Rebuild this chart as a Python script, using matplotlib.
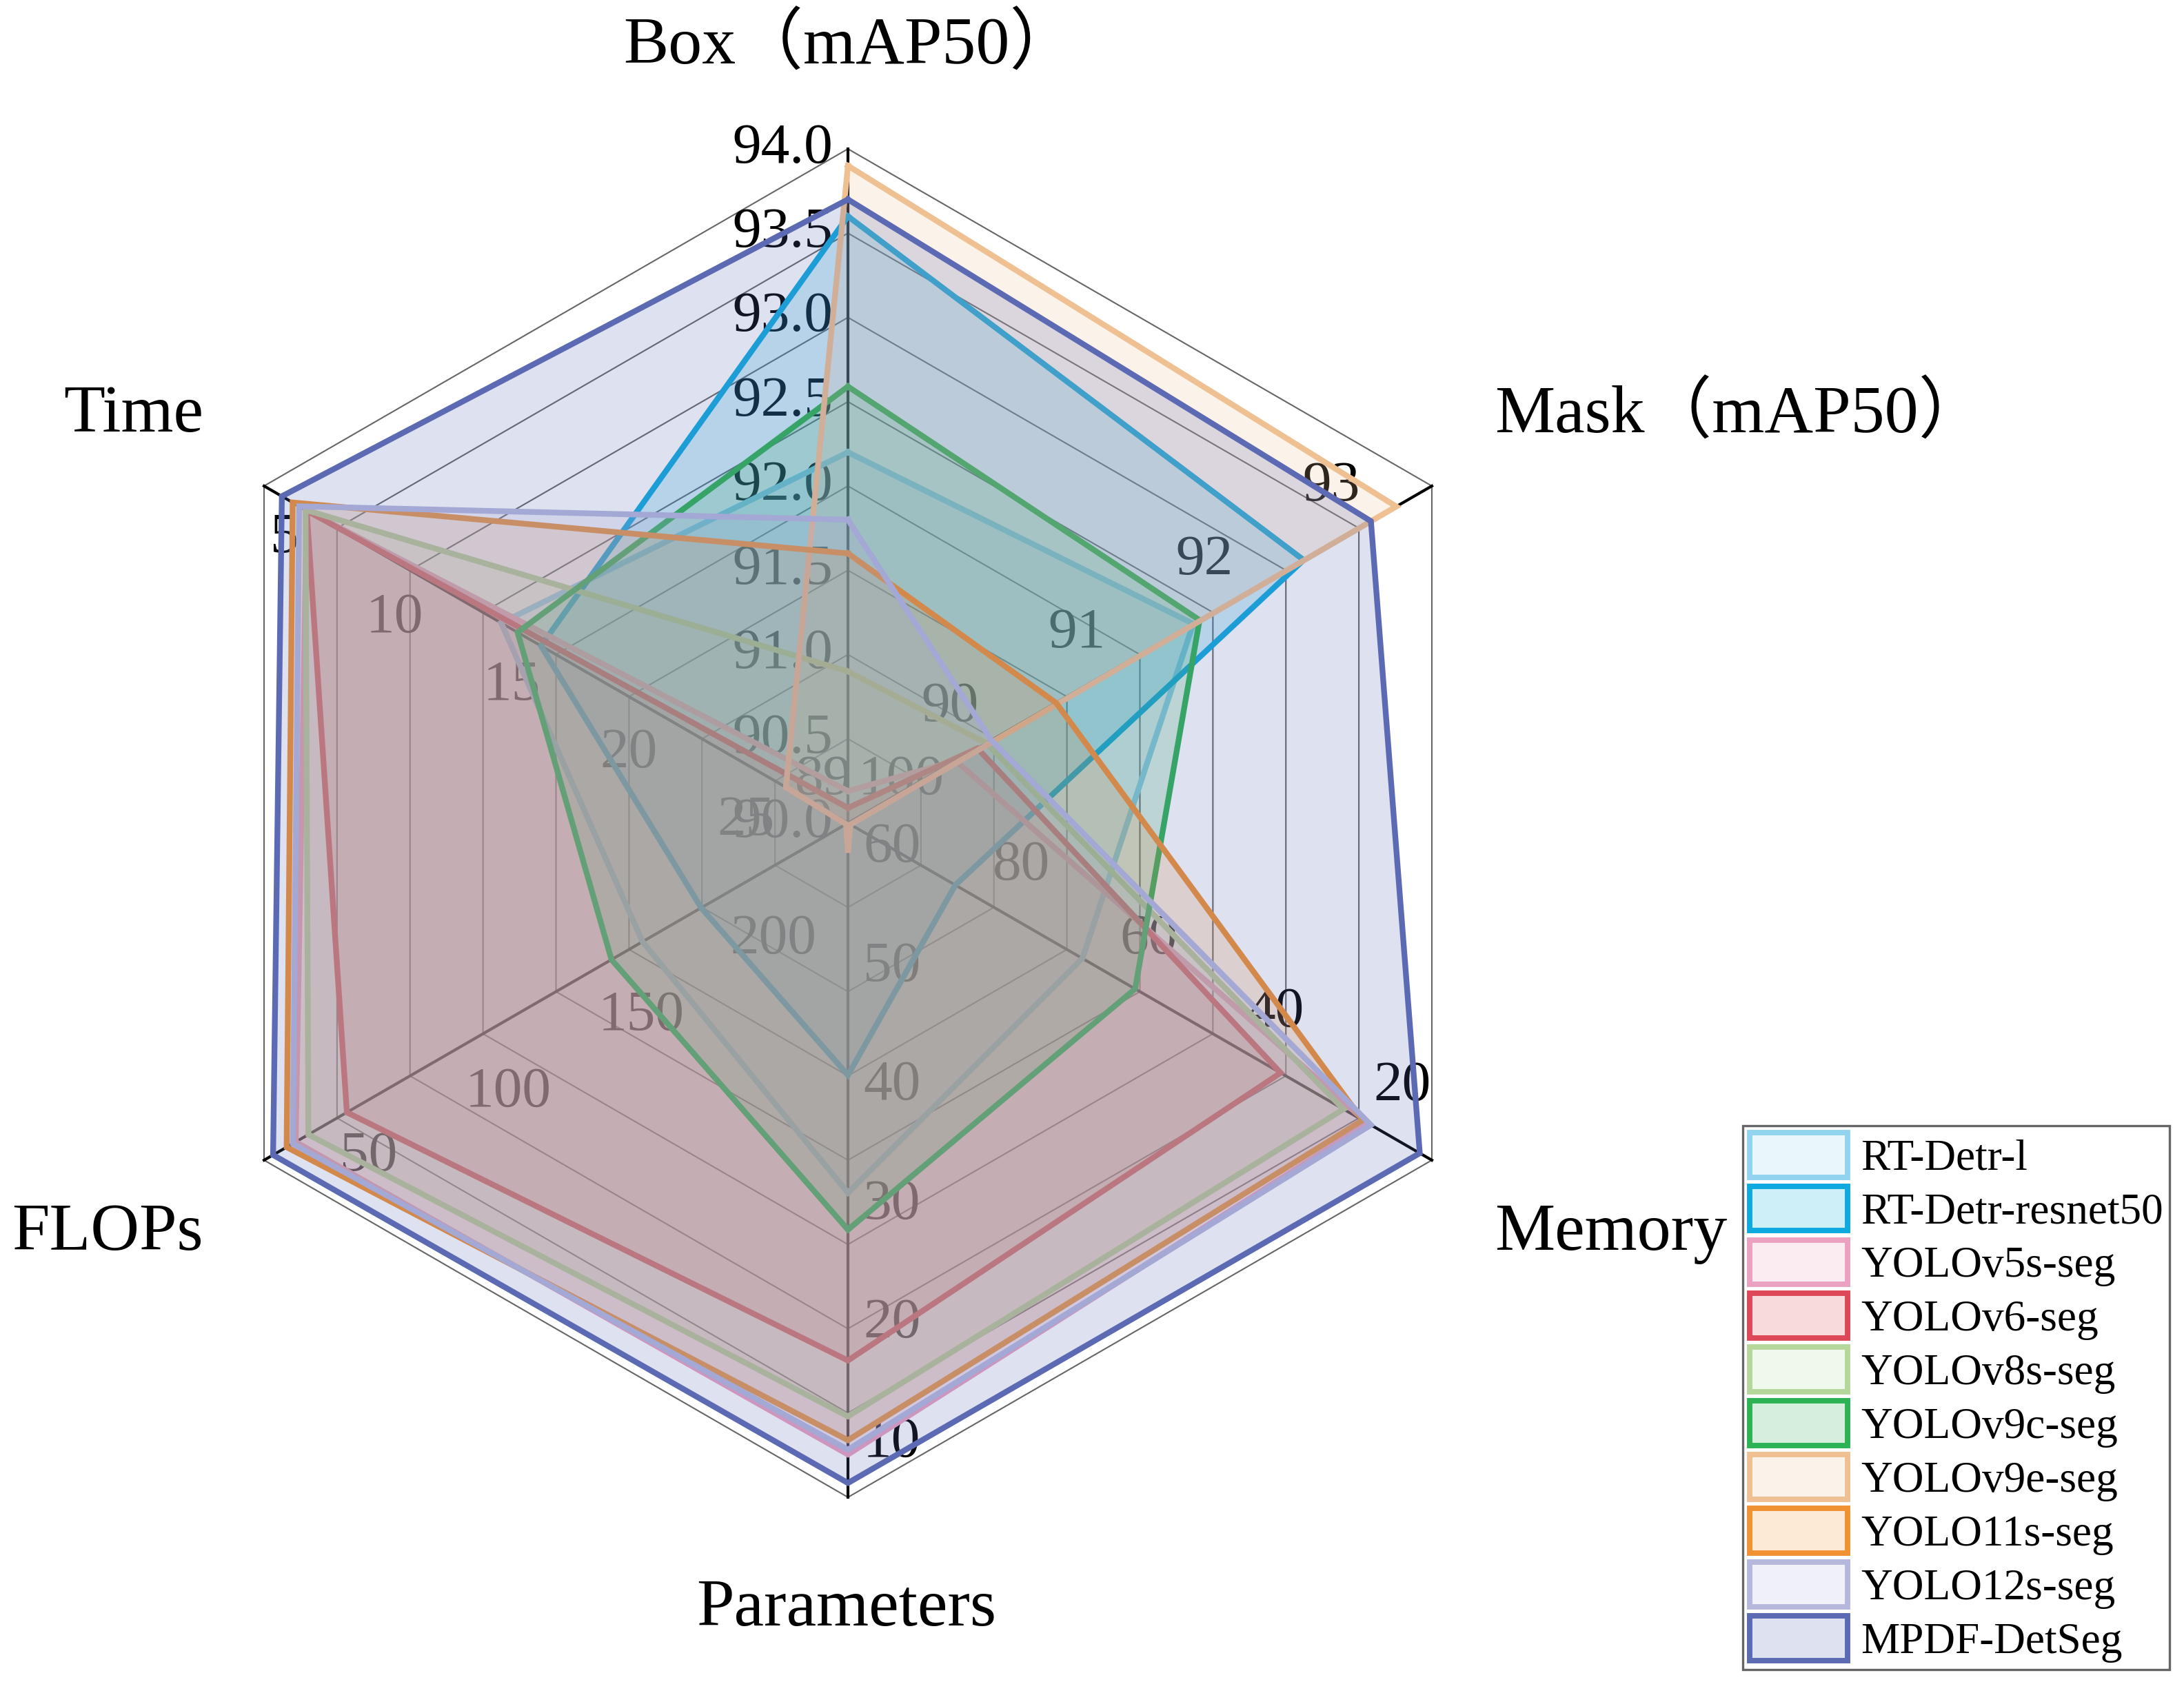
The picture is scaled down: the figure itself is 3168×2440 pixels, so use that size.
import numpy as np
import matplotlib
matplotlib.use("Agg")
import matplotlib.pyplot as plt
from matplotlib.patches import Patch
from matplotlib.colors import to_rgba


models = ["RT-Detr-l", "RT-Detr-resnet50", "YOLOv5s-seg", "YOLOv6-seg", "YOLOv8s-seg",
          "YOLOv9c-seg", "YOLOv9e-seg", "YOLO11s-seg", "YOLO12s-seg", "MPDF-DetSeg"]
colors = ["#92d3ef", "#0eaadf", "#eba2c1", "#dd4758", "#b5d79c",
          "#2db354", "#eec092", "#f09132", "#b5b8dc", "#5c6ab4"]

axis_names = ["Box（mAP50）", "Mask（mAP50）", "Memory", "Parameters", "FLOPs", "Time"]

box = [92.20, 93.60, 90.19, 90.09, 90.90, 92.59, 93.90, 91.60, 91.80, 93.70]
mask = [91.72, 92.59, 89.85, 90.02, 90.09, 91.77, 93.32, 90.64, 90.13, 93.12]
memory = [66.5, 86.5, 21.6, 35.3, 25.4, 58.2, 103.0, 22.4, 21.1, 13.4]
params = [31.0, 40.9, 9.0, 16.9, 12.2, 27.9, 59.6, 10.2, 9.4, 6.6]
flops = [162.6, 184.7, 31.9, 51.2, 36.7, 150.9, 239.3, 28.5, 30.8, 23.4]
time_ms = [13.5, 15.2, 5.2, 5.2, 5.15, 14.2, 25.65, 4.6, 4.88, 4.14]

# value at the centre and at the outer ring of every axis
axis_inner = [90.0, 89.0, 103.4, 62.1, 240.0, 28.3]
axis_outer = [94.0, 93.6, 11.5, 5.4, 20.0, 3.38]
axis_ticks = [[90.0, 90.5, 91.0, 91.5, 92.0, 92.5, 93.0, 93.5, 94.0],
              [89, 90, 91, 92, 93],
              [20, 40, 60, 80, 100],
              [10, 20, 30, 40, 50, 60],
              [50, 100, 150, 200],
              [5, 10, 15, 20, 25]]
tick_fmt = ["{:.1f}", "{:g}", "{:g}", "{:g}", "{:g}", "{:g}"]

angles = np.deg2rad([90, 30, -30, -90, -150, 150])
serif = "Liberation Serif"
PX = 978.0  # pixels per unit radius


def norm(v, j):
    return (v - axis_inner[j]) / (axis_outer[j] - axis_inner[j])


fig = plt.figure(figsize=(3168 / 300, 2440 / 300), dpi=300)
ax = fig.add_axes([0, 0, 1, 1])
ax.set_xlim(-1230 / PX, (3168 - 1230) / PX)
ax.set_ylim(-(2440 - 1194) / PX, 1194 / PX)
ax.axis("off")

ca = np.append(np.cos(angles), np.cos(angles[0]))
sa = np.append(np.sin(angles), np.sin(angles[0]))

# hexagon grid
for k in range(1, 9):
    ax.plot(ca * k / 8, sa * k / 8, color="0.4", lw=0.5, zorder=0.5)
for a in angles:
    ax.plot([0, np.cos(a)], [0, np.sin(a)], color="k", lw=1.0, zorder=0.6)

# tick labels (under the fills)
labels = []
for j in range(6):
    a = angles[j]
    for v in axis_ticks[j]:
        f = norm(v, j)
        t = ax.text(f * np.cos(a), f * np.sin(a), tick_fmt[j].format(v),
                    ha="center", va="center", fontsize=20, family=serif,
                    color="k", zorder=1)
        labels.append((t, a, f))

# axis titles
title_pos = [(0.003, 1.152, "center"), (0.959, 0.605, "left"), (0.959, -0.609, "left"),
             (-0.002, -1.166, "center"), (-0.956, -0.609, "right"), (-0.956, 0.605, "right")]
for name, (x, y, ha) in zip(axis_names, title_pos):
    ax.text(x, y, name, ha=ha, va="center", fontsize=23.5,
            family=[serif, "Noto Sans CJK SC"], zorder=5)

# series
data = np.array([box, mask, memory, params, flops, time_ms]).T
for i in range(len(models)):
    f = np.array([norm(data[i, j], j) for j in range(6)])
    f = np.append(f, f[0])
    xs = f * ca
    ys = f * sa
    ax.fill(xs, ys, color=colors[i], alpha=0.2, lw=0, zorder=2 + i * 0.1)
    ax.plot(xs, ys, color=colors[i], lw=2.0, zorder=2.05 + i * 0.1,
            solid_joinstyle="miter")

# push tick labels off the axis, perpendicular to it
fig.canvas.draw()
rend = fig.canvas.get_renderer()
for t, a, f in labels:
    w = t.get_window_extent(rend).width
    px, py = np.cos(a + np.pi / 2), np.sin(a + np.pi / 2)
    d = 22 + w / 2 + 8 * abs(py) / 0.866
    t.set_position((f * np.cos(a) + px * d / PX, f * np.sin(a) + py * d / PX))

handles = [Patch(facecolor=to_rgba(c, 0.2), edgecolor=c, linewidth=1.9) for c in colors]
leg = fig.legend(handles, models, loc="upper left", bbox_to_anchor=(0.798, 0.3307),
                 frameon=True, fancybox=False, prop={"family": serif, "size": 15.2},
                 handlelength=2.25, handleheight=1.2, labelspacing=0.16,
                 handletextpad=0.3, borderpad=0.15, borderaxespad=0)
leg.get_frame().set_edgecolor("0.25")
leg.get_frame().set_linewidth(0.8)
leg.set_zorder(10)

fig.savefig("out.png", dpi=300)
